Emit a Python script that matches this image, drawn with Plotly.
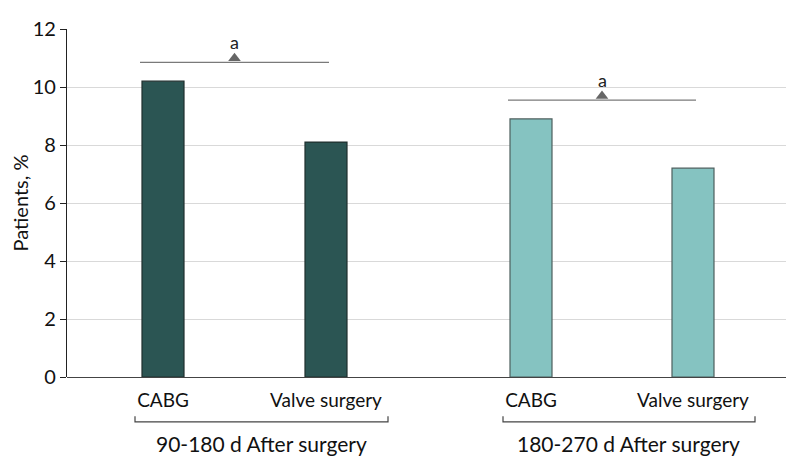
import plotly.graph_objects as go

# data
groups = ["90-180 d After surgery", "180-270 d After surgery"]
procedures = ["CABG", "Valve surgery"]
values_90_180 = [10.2, 8.1]
values_180_270 = [8.9, 7.2]
sig_levels = [10.85, 9.55]   # height of the "a" comparison lines
y_ticks = [0, 2, 4, 6, 8, 10, 12]

# layout constants (x axis measured in plot units)
x_range = [0, 7.22]
centers = [[0.96, 2.59], [4.64, 6.26]]
bar_w = 0.42
colors = ["#2b5553", "#85c3c1"]
edges = ["#1f2f2e", "#4d5f5e"]
font = "Lato, 'Noto Sans', sans-serif"

fig = go.Figure()
for i, vals in enumerate([values_90_180, values_180_270]):
	fig.add_trace(go.Bar(
		x=centers[i], y=vals, width=bar_w,
		marker=dict(color=colors[i], line=dict(color=edges[i], width=1.2)),
		showlegend=False, hoverinfo="y"
	))

def px(x):
	return (x - x_range[0]) / (x_range[1] - x_range[0])

for i, lvl in enumerate(sig_levels):
	left, right = centers[i]
	mid = (left + right) / 2
	# comparison line
	fig.add_shape(type="line", x0=left - 0.23, x1=right + 0.03, y0=lvl, y1=lvl,
		line=dict(color="#7a7a7a", width=1.3))
	fig.add_trace(go.Scatter(
		x=[mid - 0.1], y=[lvl + 0.14], mode="markers",
		marker=dict(symbol="triangle-up", size=11, color="#666666"),
		showlegend=False, hoverinfo="skip"
	))
	fig.add_annotation(x=mid - 0.1, y=lvl, text="a", showarrow=False,
		yshift=20, font=dict(size=18, color="#222222", family=font))
	# group bracket below the axis
	b0, b1 = px(left - 0.28), px(right + 0.62)
	fig.add_shape(type="path", xref="paper", yref="paper",
		path=f"M {b0} -0.113 L {b0} -0.129 L {b1} -0.129 L {b1} -0.113",
		line=dict(color="#444444", width=1.2))
	fig.add_annotation(xref="paper", yref="paper", x=(b0 + b1) / 2, y=-0.15,
		text=groups[i], showarrow=False, xanchor="center", yanchor="top",
		font=dict(size=21, color="#111111", family=font))

fig.update_layout(
	width=786, height=464,
	margin=dict(l=59, r=5, t=21, b=95),
	plot_bgcolor="white", paper_bgcolor="white",
	font=dict(family=font, color="#111111"),
	xaxis=dict(
		range=x_range, showgrid=False, zeroline=False,
		tickvals=centers[0] + centers[1], ticktext=procedures * 2,
		ticks="outside", ticklen=6, tickcolor="rgba(0,0,0,0)",
		tickfont=dict(size=19), showline=False, fixedrange=True,
		automargin=False
	),
	yaxis=dict(
		range=[0, 12], tickvals=y_ticks, showgrid=True,
		gridcolor="#d9d9d9", gridwidth=1.4, zeroline=True,
		zerolinecolor="#444444", zerolinewidth=1.4,
		showline=True, linecolor="#222222", linewidth=1.2,
		ticks="outside", ticklen=6, tickcolor="#222222",
		tickfont=dict(size=20),
		title=dict(text="Patients, %", font=dict(size=20), standoff=6),
		fixedrange=True, automargin=False
	)
)

fig.write_html("out.html")
